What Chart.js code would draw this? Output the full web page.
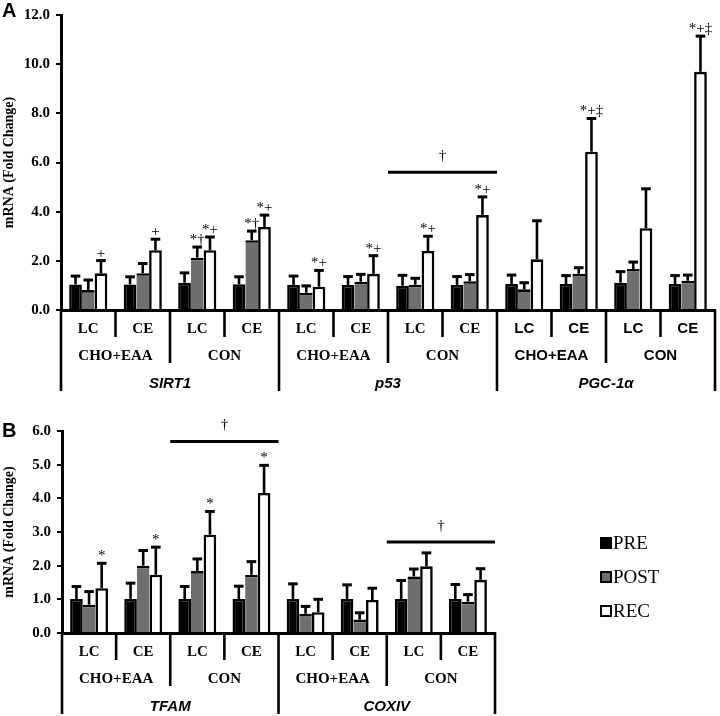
<!DOCTYPE html>
<html><head><meta charset="utf-8">
<script src="https://cdn.jsdelivr.net/npm/chart.js@4.4.1/dist/chart.umd.min.js"></script>
<style>
html,body{margin:0;padding:0;background:#fff;}
#wrap{position:relative;width:720px;height:716px;overflow:hidden;background:#fff;}
canvas{position:absolute;left:0;}
</style></head><body>
<div id="wrap">
<canvas id="cA" width="720" height="415" style="top:0px"></canvas>
<canvas id="cB" width="720" height="301" style="top:415px"></canvas>
</div>
<script>
// ---------- data ----------
const seriesNames = ['PRE', 'POST', 'REC'];
const groupNames = ['CHO+EAA', 'CON'];
const subNames = ['LC', 'CE'];

// Panel A
const genesA = ['SIRT1', 'p53', 'PGC-1α'];
const preA    = [1.04, 1.04, 1.11, 1.05,  1.02, 1.02, 0.99, 1.02,  1.06, 1.06, 1.11, 1.06];
const preUpA  = [1.38, 1.35, 1.51, 1.35,  1.38, 1.36, 1.41, 1.36,  1.42, 1.40, 1.56, 1.40];
const postA   = [0.81, 1.50, 2.13, 2.84,  0.70, 1.15, 1.03, 1.17,  0.84, 1.47, 1.67, 1.19];
const postUpA = [1.22, 1.89, 2.56, 3.21,  0.98, 1.45, 1.29, 1.44,  1.11, 1.72, 1.95, 1.42];
const recA    = [1.49, 2.43, 2.43, 3.38,  0.95, 1.47, 2.40, 3.86,  2.06, 6.44, 3.33, 9.69];
const recUpA  = [2.01, 2.88, 2.97, 3.86,  1.61, 2.21, 3.00, 4.60,  3.63, 7.79, 4.93, 11.14];
const preMarksA  = ['', '', '', '',  '', '', '', '',  '', '', '', ''];
const postMarksA = ['', '', '*†', '*†',  '', '', '', '',  '', '', '', ''];
const recMarksA  = ['+', '+', '*+', '*+',  '*+', '*+', '*+', '*+',  '', '*+‡', '', '*+‡'];
const yTicksA = { min: 0, max: 12, step: 2 };
const sigA = [{ from: 6, to: 7, value: 5.6, mark: '†' }];

// Panel B
const genesB = ['TFAM', 'COXIV'];
const preB    = [1.01, 1.01, 1.01, 1.01,  1.01, 1.01, 1.01, 1.01];
const preUpB  = [1.38, 1.48, 1.38, 1.39,  1.46, 1.43, 1.56, 1.44];
const postB   = [0.84, 2.00, 1.84, 1.73,  0.57, 0.40, 1.68, 0.93];
const postUpB = [1.23, 2.45, 2.20, 2.12,  0.79, 0.60, 1.90, 1.14];
const recB    = [1.33, 1.73, 2.92, 4.16,  0.62, 0.98, 1.98, 1.58];
const recUpB  = [2.07, 2.55, 3.61, 4.98,  1.00, 1.33, 2.38, 1.91];
const preMarksB  = ['', '', '', '',  '', '', '', ''];
const postMarksB = ['', '', '', '',  '', '', '', ''];
const recMarksB  = ['*', '*', '*', '*',  '', '', '', ''];
const yTicksB = { min: 0, max: 6, step: 1 };
const sigB = [{ from: 2, to: 3, value: 5.69, mark: '†' }, { from: 6, to: 7, value: 2.7, mark: '†' }];

// ---------- styling ----------
const SERIF = '"Liberation Serif", "Times New Roman", Times, serif';
const SANS = '"Liberation Sans", Arial, Helvetica, sans-serif';
const fills = ['#000000', '#6f6f6f', '#ffffff'];
const sansGenes = ['PGC-1α'];
Chart.defaults.color = '#000';

function buildCats(genes) {
  const c = [];
  genes.forEach(g => groupNames.forEach(gr => subNames.forEach(s => c.push({ g, gr, s }))));
  return c;
}
function runs(cats, keyFn) {
  const out = [];
  cats.forEach((c, i) => {
    const k = keyFn(c);
    if (out.length && out[out.length - 1].key === k) out[out.length - 1].end = i;
    else out.push({ key: k, start: i, end: i });
  });
  return out;
}

const hierPlugin = {
  id: 'hier',
  afterDraw(chart, args, opts) {
    const { ctx, chartArea: ca } = chart;
    const xs = chart.scales.x;
    const cats = opts.cats;
    const n = cats.length;
    const cw = (ca.right - ca.left) / n;
    const base = ca.bottom;
    const L = [27, 53, 81];
    ctx.save();
    ctx.strokeStyle = '#000';
    ctx.lineWidth = 2.6;
    for (let i = 0; i <= n; i++) {
      const x = i < n ? xs.getPixelForValue(i) - cw / 2 : xs.getPixelForValue(n - 1) + cw / 2;
      let len;
      if (i === 0 || i === n || cats[i].g !== cats[i - 1].g) len = L[2];
      else if (cats[i].gr !== cats[i - 1].gr) len = L[1];
      else len = L[0];
      ctx.beginPath(); ctx.moveTo(x, base - 1); ctx.lineTo(x, base + len); ctx.stroke();
    }
    ctx.fillStyle = '#000';
    ctx.textAlign = 'center';
    ctx.textBaseline = 'middle';
    const fontFor = g => sansGenes.includes(g) ? 'bold 15px ' + SANS : 'bold 15px ' + SERIF;
    cats.forEach((c, i) => { ctx.font = fontFor(c.g); ctx.fillText(c.s, xs.getPixelForValue(i), base + 19); });
    runs(cats, c => c.g + '|' + c.gr).forEach(r => {
      const c = cats[r.start];
      ctx.font = fontFor(c.g);
      ctx.fillText(c.gr, (xs.getPixelForValue(r.start) + xs.getPixelForValue(r.end)) / 2, base + 46);
    });
    runs(cats, c => c.g).forEach(r => {
      ctx.font = 'italic bold 15px ' + SANS;
      ctx.fillText(cats[r.start].g, (xs.getPixelForValue(r.start) + xs.getPixelForValue(r.end)) / 2, base + 74);
    });
    // panel letter
    ctx.textAlign = 'left';
    ctx.textBaseline = 'alphabetic';
    ctx.font = 'bold 20px ' + SANS;
    ctx.fillText(opts.letter, 2, opts.letterY);
    ctx.restore();
  }
};

const errPlugin = {
  id: 'errbars',
  afterDatasetsDraw(chart, args, opts) {
    const { ctx } = chart;
    const ys = chart.scales.y;
    const xs = chart.scales.x;
    ctx.save();
    chart.data.datasets.forEach((ds, d) => {
      const meta = chart.getDatasetMeta(d);
      meta.data.forEach((el, i) => {
        const x = el.x;
        const yTop = el.y;
        const yErr = ys.getPixelForValue(ds.upper[i]);
        ctx.strokeStyle = '#000';
        ctx.lineWidth = 2.6;
        ctx.beginPath(); ctx.moveTo(x, yTop); ctx.lineTo(x, yErr); ctx.stroke();
        ctx.lineWidth = 3;
        ctx.beginPath(); ctx.moveTo(x - 4.8, yErr); ctx.lineTo(x + 4.8, yErr); ctx.stroke();
        const m = ds.marks[i];
        if (m) {
          ctx.fillStyle = '#000';
          ctx.font = '15px ' + SERIF;
          ctx.textAlign = 'center';
          ctx.textBaseline = 'alphabetic';
          ctx.fillText(m, x, yErr - 3);
        }
      });
    });
    // significance lines
    const n = chart.data.labels.length;
    const cw = (chart.chartArea.right - chart.chartArea.left) / n;
    (opts.sig || []).forEach(s => {
      const x1 = xs.getPixelForValue(s.from) - cw / 2;
      const x2 = xs.getPixelForValue(s.to) + cw / 2;
      const y = ys.getPixelForValue(s.value);
      ctx.strokeStyle = '#000';
      ctx.lineWidth = 3;
      ctx.beginPath(); ctx.moveTo(x1, y); ctx.lineTo(x2, y); ctx.stroke();
      ctx.fillStyle = '#000';
      ctx.font = '15px ' + SERIF;
      ctx.textAlign = 'center';
      ctx.textBaseline = 'alphabetic';
      ctx.fillText(s.mark, (x1 + x2) / 2, y - 12);
    });
    ctx.restore();
  }
};

const legendPlugin = {
  id: 'customLegend',
  afterDraw(chart, args, opts) {
    if (!opts.show) return;
    const { ctx } = chart;
    ctx.save();
    chart.data.datasets.forEach((ds, i) => {
      const cy = opts.y0 + i * opts.dy;
      ctx.fillStyle = ds.backgroundColor;
      ctx.fillRect(opts.x, cy - 5, 10, 10);
      ctx.strokeStyle = '#000';
      ctx.lineWidth = 2;
      ctx.strokeRect(opts.x, cy - 5, 10, 10);
      ctx.fillStyle = '#000';
      ctx.font = '19px ' + SERIF;
      ctx.textAlign = 'left';
      ctx.textBaseline = 'middle';
      ctx.fillText(ds.label, opts.x + 12, cy + 1);
    });
    ctx.restore();
  }
};

function makeChart(id, cats, vals, ups, marks, ticks, sig, layout, letter, legend) {
  const labels = cats.map(c => c.g + ' ' + c.gr + ' ' + c.s);
  const bw = [
    { top: 2.6, left: 2.6, right: 2.6, bottom: 0 },
    { top: 2.6, left: 0, right: 0, bottom: 0 },
    { top: 2.6, left: 2.6, right: 2.6, bottom: 0 }
  ];
  const datasets = seriesNames.map((name, k) => ({
    label: name,
    data: vals[k],
    upper: ups[k],
    marks: marks[k],
    backgroundColor: fills[k],
    borderColor: '#000',
    borderWidth: bw[k],
    borderSkipped: false,
    barPercentage: 1.0,
    categoryPercentage: 0.7
  }));
  return new Chart(document.getElementById(id), {
    type: 'bar',
    data: { labels, datasets },
    options: {
      responsive: false,
      animation: false,
      events: [],
      layout: { padding: layout.padding },
      scales: {
        x: {
          ticks: { display: false },
          grid: { display: false },
          border: { display: true, color: '#000', width: 3 },
          afterFit: s => { s.height = 0; }
        },
        y: {
          min: ticks.min, max: ticks.max,
          ticks: {
            stepSize: ticks.step,
            padding: 6,
            font: { family: SERIF, weight: 'bold', size: 15 },
            callback: v => Number(v).toFixed(1)
          },
          grid: { display: true, drawOnChartArea: false, drawTicks: true, tickLength: 5, color: '#000', lineWidth: 2 },
          border: { display: true, color: '#000', width: 3 },
          title: {
            display: true, text: 'mRNA (Fold Change)',
            font: { family: SERIF, weight: 'bold', size: 14 },
            padding: { top: 1, bottom: 0 }
          },
          afterFit: s => { s.width = layout.yWidth; }
        }
      },
      plugins: {
        legend: { display: false },
        tooltip: { enabled: false },
        hier: { cats, letter: letter.text, letterY: letter.y },
        errbars: { sig },
        customLegend: legend
      }
    },
    plugins: [hierPlugin, errPlugin, legendPlugin]
  });
}

makeChart('cA', buildCats(genesA),
  [preA, postA, recA], [preUpA, postUpA, recUpA], [preMarksA, postMarksA, recMarksA],
  yTicksA, sigA,
  { padding: { top: 14, bottom: 105, left: 0, right: 5 }, yWidth: 61 },
  { text: 'A', y: 17 }, { show: false });

makeChart('cB', buildCats(genesB),
  [preB, postB, recB], [preUpB, postUpB, recUpB], [preMarksB, postMarksB, recMarksB],
  yTicksB, sigB,
  { padding: { top: 16, bottom: 83, left: 0, right: 225 }, yWidth: 62 },
  { text: 'B', y: 22 }, { show: true, x: 601, y0: 128, dy: 34 });
</script>
</body></html>
